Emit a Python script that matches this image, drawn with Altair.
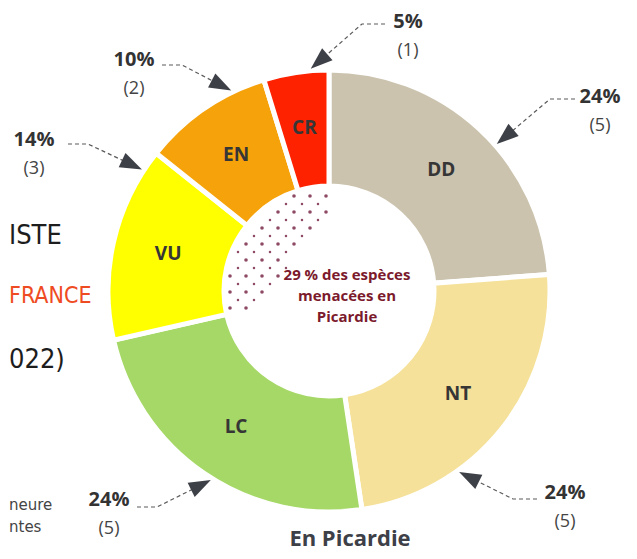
import altair as alt
import pandas as pd
import numpy as np

# ---------------- data ----------------
CATEGORIES = ["DD", "NT", "LC", "VU", "EN", "CR"]
COUNTS = [5, 5, 5, 3, 2, 1]
COLORS = ["#CBC3AE", "#F5E199", "#A5D866", "#FFFF00", "#F6A20B", "#FF2200"]

# annotation layout (page pixel coordinates)
LABEL_X = [600, 565, 109, 34, 134, 408]
LABEL_Y = [97, 493, 500, 140, 60, 22]
LINE_START_X = [575, 537, 137, 68, 162, 385]
ELBOW_X = [550, 513, 157, 88, 182, 362]
LINE_Y = [99, 499, 507, 144, 65, 24]
TIP_ANGLE = [48.8, 144.3, 212.0, 303.0, 334.0, 355.3]
TIP_R = 223

CX, CY = 329, 291          # donut centre (page px)
W, H = 621, 543            # drawing size
OFF = 8                    # page margin

LEFT_TEXTS = ["ISTE", "FRANCE", "022)"]
LEFT_X = [9, 9, 9]
LEFT_Y = [236, 296, 360]
LEFT_SIZES = [27, 23, 27]
LEFT_COLORS = ["#1d1d1d", "#EF4B22", "#1d1d1d"]
SMALL_TEXTS = ["neure", "ntes"]
SMALL_X = [9, 9]
SMALL_Y = [505, 527]

CENTER_TEXT = "29 % des espèces\nmenacées en\nPicardie"
TITLE = "En Picardie"

# ---------------- tables ----------------
total = sum(COUNTS)
slices = pd.DataFrame({
    "cat": CATEGORIES,
    "count": COUNTS,
    "order": list(range(len(CATEGORIES))),
})
slices["pct"] = [f"{round(100 * c / total)}%" for c in COUNTS]
slices["cnt"] = [f"({c})" for c in COUNTS]

lab = pd.DataFrame({
    "cat": CATEGORIES,
    "x": LABEL_X,
    "y": LABEL_Y,
    "y2": [v + 29 for v in LABEL_Y],
    "pct": slices["pct"],
    "cnt": slices["cnt"],
})

line_rows, head_rows = [], []
for i, c in enumerate(CATEGORIES):
    a = np.radians(TIP_ANGLE[i])
    tx = CX + TIP_R * np.sin(a)
    ty = CY - TIP_R * np.cos(a)
    ex, ey = ELBOW_X[i], LINE_Y[i]
    dx, dy = tx - ex, ty - ey
    n = np.hypot(dx, dy)
    ux, uy = dx / n, dy / n
    bx, by = tx - 20 * ux, ty - 20 * uy
    line_rows += [
        {"cat": c, "k": 0, "x": LINE_START_X[i], "y": LINE_Y[i]},
        {"cat": c, "k": 1, "x": ex, "y": ey},
        {"cat": c, "k": 2, "x": bx, "y": by},
    ]
    ang = (np.degrees(np.arctan2(ux, -uy)) + 360) % 360
    head_rows.append({"cat": c, "x": tx - 11 * ux, "y": ty - 11 * uy, "angle": ang})
lines = pd.DataFrame(line_rows)
heads = pd.DataFrame(head_rows)

# decorative halftone dots in the hole
dots = []
for r, yy in enumerate(range(196, 316, 8)):
    off = 8 if r % 2 else 0
    for xx in range(214 + off, 340, 16):
        ddx, ddy = xx - CX, yy - CY
        if ddx * ddx + ddy * ddy < 102 ** 2 and ddx + 0.7 * ddy < -58:
            dots.append({"x": xx, "y": yy, "s": 13 if r % 2 == 0 else 6})
dots = pd.DataFrame(dots)

left = pd.DataFrame({"t": LEFT_TEXTS, "x": LEFT_X, "y": LEFT_Y, "c": LEFT_COLORS, "s": LEFT_SIZES})
small = pd.DataFrame({"t": SMALL_TEXTS, "x": SMALL_X, "y": SMALL_Y})

XS = alt.Scale(domain=[OFF, OFF + W], range=[0, W], nice=False, zero=False)
YS = alt.Scale(domain=[OFF, OFF + H], range=[0, H], nice=False, zero=False)


def X(f="x"):
    return alt.X(f"{f}:Q", scale=XS, axis=None)


def Y(f="y"):
    return alt.Y(f"{f}:Q", scale=YS, axis=None)


ACX, ACY = CX - OFF, CY - OFF

arcs = alt.Chart(slices).mark_arc(
    innerRadius=105, outerRadius=221, stroke="white", strokeWidth=5
).encode(
    theta=alt.Theta("count:Q", stack=True),
    order=alt.Order("order:Q"),
    color=alt.Color("cat:N", scale=alt.Scale(domain=CATEGORIES, range=COLORS), legend=None),
    x=alt.value(ACX),
    y=alt.value(ACY),
)

inner_labels = alt.Chart(slices).mark_text(
    radius=165, font="Open Sans", fontWeight="bold", fontSize=19, color="#363636"
).encode(
    theta=alt.Theta("count:Q", stack=True),
    order=alt.Order("order:Q"),
    text="cat:N",
    x=alt.value(ACX),
    y=alt.value(ACY),
)

dot_layer = alt.Chart(dots).mark_point(filled=True, color="#7A2A4A", opacity=0.85).encode(
    x=X(), y=Y(), size=alt.Size("s:Q", scale=None, legend=None)
)

center = alt.Chart(pd.DataFrame({"t": [CENTER_TEXT], "x": [347], "y": [280]})).mark_text(
    font="Open Sans", fontWeight="bold", fontSize=15, color="#7B1A2C",
    lineBreak="\n", lineHeight=21, align="center", baseline="alphabetic"
).encode(x=X(), y=Y(), text="t:N")

line_layer = alt.Chart(lines).mark_line(
    color="#5a5a5a", strokeDash=[4, 3], strokeWidth=1.2
).encode(x=X(), y=Y(), detail="cat:N", order="k:Q")

head_layer = alt.Chart(heads).mark_point(
    shape="M0,-1L0.72,1L-0.72,1Z", filled=True, color="#3d4047", opacity=1, size=484
).encode(x=X(), y=Y(), angle=alt.Angle("angle:Q", scale=None))

pct_layer = alt.Chart(lab).mark_text(
    font="Open Sans", fontWeight="bold", fontSize=20, color="#333333", baseline="middle"
).encode(x=X(), y=Y(), text="pct:N")

cnt_layer = alt.Chart(lab).mark_text(
    font="Open Sans", fontSize=18, color="#444444", baseline="middle"
).encode(x=X(), y=Y("y2"), text="cnt:N")

left_layer = alt.Chart(left).mark_text(
    font="DejaVu Sans Condensed", align="left", baseline="middle"
).encode(
    x=X(), y=Y(), text="t:N",
    color=alt.Color("c:N", scale=None),
    size=alt.Size("s:Q", scale=None, legend=None),
)

small_layer = alt.Chart(small).mark_text(
    font="DejaVu Sans", fontSize=15, color="#444444", align="left", baseline="middle"
).encode(x=X(), y=Y(), text="t:N")

title = alt.Chart(pd.DataFrame({"t": [TITLE], "x": [350], "y": [546]})).mark_text(
    font="Open Sans", fontWeight="bold", fontSize=22, color="#3d4047",
    align="center", baseline="alphabetic"
).encode(x=X(), y=Y(), text="t:N")

chart = alt.layer(
    arcs, dot_layer, center, inner_labels, line_layer, head_layer,
    pct_layer, cnt_layer, left_layer, small_layer, title
).properties(
    width=W, height=H, padding=0, autosize="none"
).configure_view(stroke=None)

chart.save("out.html", embed_options={"renderer": "svg", "actions": False})
